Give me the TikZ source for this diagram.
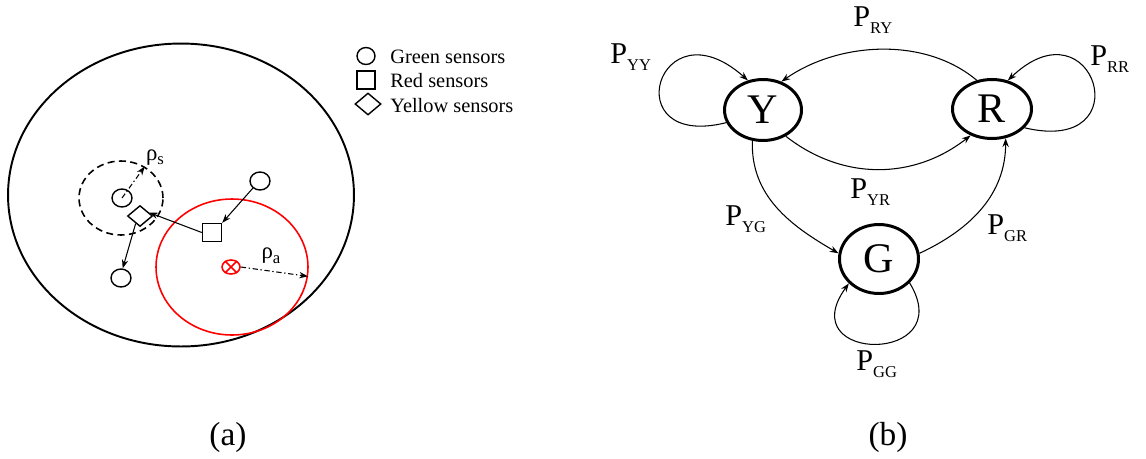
\documentclass[tikz,border=0pt]{standalone}
\usepackage{fontspec}
\setmainfont{Liberation Serif}
\usetikzlibrary{shapes.geometric,arrows.meta}
\newcommand{\Plab}[1]{\fontsize{17.2}{17.2}\selectfont P\raisebox{-4pt}{\fontsize{9.4}{9.4}\selectfont #1}}
\begin{document}
\begin{tikzpicture}[x=0.02cm,y=0.02cm,
  arr/.style={-{Stealth[length=5pt,width=3.6pt]}, line width=0.6pt},
  state/.style={ellipse, draw, line width=1.7pt, inner sep=0pt, font=\fontsize{24}{24}\selectfont},
  plab/.style={anchor=base west, inner sep=0pt},
  sensor/.style={draw, line width=0.8pt, inner sep=0pt},
  gs/.style={sensor, ellipse, minimum width=0.4cm, minimum height=0.36cm},
  rsq/.style={sensor, rectangle, minimum width=0.38cm, minimum height=0.36cm},
  ysd/.style={sensor, diamond, minimum width=0.5cm, minimum height=0.42cm},
  legtext/.style={anchor=base west, inner sep=0pt, font=\fontsize{11.6}{11.6}\selectfont},
  dashdot/.style={dash pattern=on 3pt off 1.5pt on 0.8pt off 1.5pt},
  caption/.style={font=\fontsize{19}{19}\selectfont, inner sep=0pt},
  rholab/.style={inner sep=0pt, font=\fontsize{13}{13}\selectfont}
]
\useasboundingbox (0,0) rectangle (1146,458);

% ---------------- (a) ----------------
\node[ellipse, draw, line width=1.1pt, inner sep=0pt, minimum width=6.92cm, minimum height=6.06cm] (field) at (181,263) {};
\node[ellipse, draw=red, line width=0.9pt, inner sep=0pt, minimum width=3.04cm, minimum height=2.72cm] (ra) at (232,191) {};
\node[ellipse, draw, line width=0.9pt, dash pattern=on 4pt off 2.5pt, inner sep=0pt, minimum width=1.68cm, minimum height=1.48cm] (rs) at (121,260) {};

\node[gs] (g1) at (122,260) {};
\node[gs] (g2) at (121,180) {};
\node[gs] (g3) at (260,277) {};
\node[ysd] (d1) at (140,242) {};
\node[rsq] (s1) at (212,225.5) {};
\node[ellipse, draw=red, line width=0.9pt, inner sep=0pt, minimum width=0.36cm, minimum height=0.28cm] (xa) at (231,191) {};
\draw[red, line width=0.9pt] (xa.45) -- (xa.225) (xa.135) -- (xa.-45);

\draw[arr] (g3.225) -- (s1.north east);
\draw[arr] (s1.west) -- (d1.20);
\draw[arr] (d1.240) -- (g2.80);
\draw[arr, dashdot] (g1.center) -- (rs.53);
\draw[arr, dashdot] (xa.east) -- (ra.-7);

\node[rholab] (rhos) at (155,300) {ρ\raisebox{-2pt}{\fontsize{9.5}{9.5}\selectfont s}};
\node[rholab] (rhoa) at (271,202) {ρ\raisebox{-3pt}{\fontsize{9.5}{9.5}\selectfont a}};

% legend
\node[sensor, ellipse, minimum width=0.36cm, minimum height=0.34cm] (lg) at (366,402) {};
\node[sensor, rectangle, minimum width=0.36cm, minimum height=0.36cm] (lr) at (366,378) {};
\node[sensor, diamond, minimum width=0.52cm, minimum height=0.44cm] (ly) at (368,354) {};
\node[legtext] (tg) at (390,395) {Green sensors};
\node[legtext] (tr) at (390,371) {Red sensors};
\node[legtext] (ty) at (390,346) {Yellow sensors};

\node[caption] (capa) at (228,21) {(a)};

% ---------------- (b) ----------------
\node[state, minimum width=1.54cm, minimum height=1.22cm] (Y) at (763,348) {Y};
\node[state, minimum width=1.58cm, minimum height=1.18cm] (R) at (992,349) {R};
\node[state, minimum width=1.58cm, minimum height=1.38cm] (G) at (879,199) {G};

\draw[arr] (R.118) to[out=140, in=35, looseness=0.9] (Y.57);
\draw[arr] (Y.-49) to[out=-38, in=218, looseness=1] (R.-129);
\draw[arr] (Y.-109) to[out=-92, in=150] (G.172);
\draw[arr] (G.8) to[out=25, in=-90] (R.-65);
\draw[arr] (Y.199) .. controls +(-112,-28) and +(-90,80) .. (Y.117);
\draw[arr] (R.-30) .. controls +(118,-28) and +(86,82) .. (R.61);
\draw[arr] (G.-38) .. controls +(50,-82) and +(-58,-80) .. (G.-141);

\node[plab] (pry) at (853,432) {\Plab{RY}};
\node[plab] (pyy) at (610,395) {\Plab{YY}};
\node[plab] (prr) at (1090,393) {\Plab{RR}};
\node[plab] (pyr) at (850,260) {\Plab{YR}};
\node[plab] (pyg) at (725,233) {\Plab{YG}};
\node[plab] (pgr) at (987,224) {\Plab{GR}};
\node[plab] (pgg) at (856,88) {\Plab{GG}};

\node[caption] (capb) at (888,21) {(b)};
\end{tikzpicture}
\end{document}
